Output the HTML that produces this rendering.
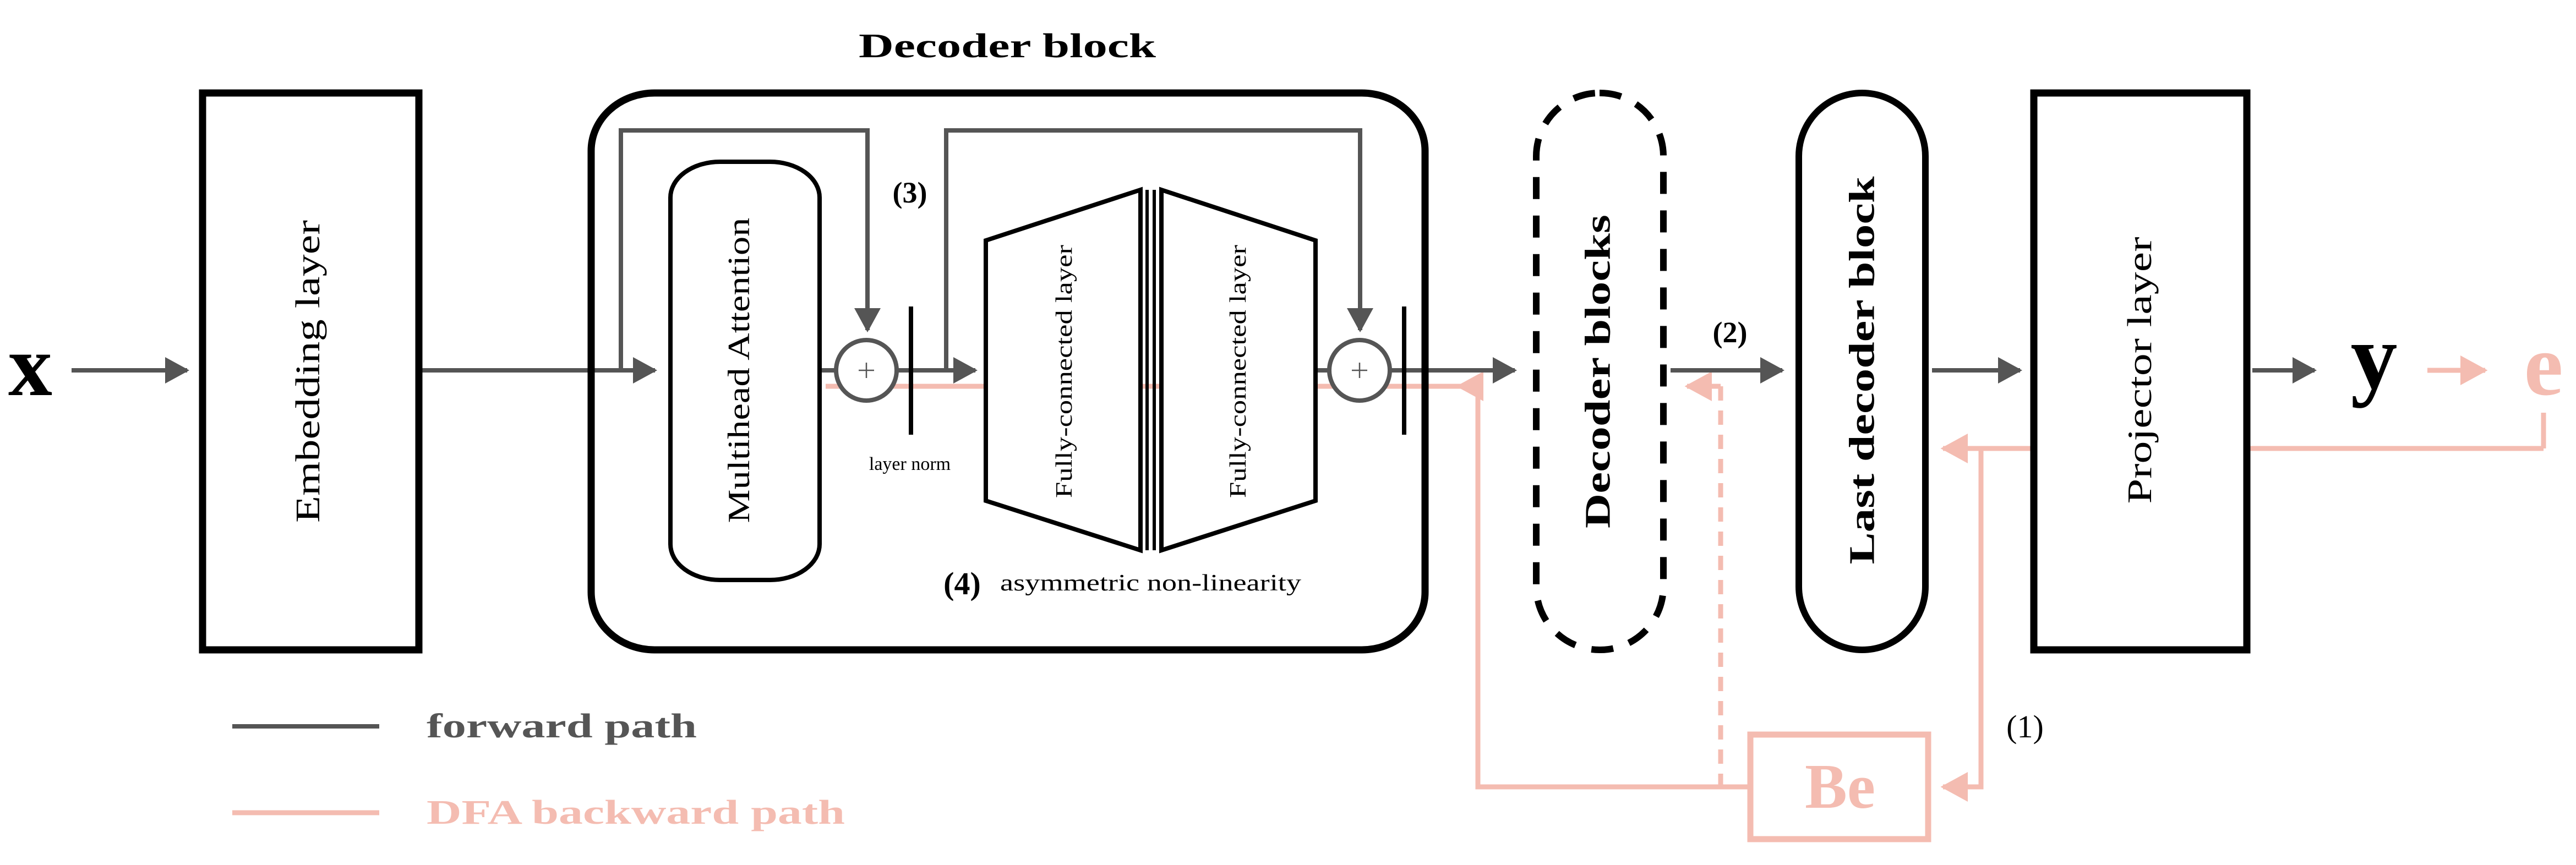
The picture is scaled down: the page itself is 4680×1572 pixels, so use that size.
<!DOCTYPE html>
<html><head><meta charset="utf-8"><style>html,body{margin:0;padding:0;background:#fff}svg{display:block}</style></head>
<body>
<svg width="4680" height="1572" viewBox="0 0 4680 1572" xmlns="http://www.w3.org/2000/svg" font-family="'Liberation Serif', serif">
<defs>
<marker id="ag" markerWidth="6" markerHeight="6" refX="5" refY="3" orient="auto" markerUnits="strokeWidth"><path d="M0,0 L5.5,3 L0,6 z" fill="#555"/></marker>
<marker id="ap" markerWidth="6" markerHeight="6" refX="5" refY="3" orient="auto" markerUnits="strokeWidth"><path d="M0,0 L5.5,3 L0,6 z" fill="#f4bcb1"/></marker>
</defs>
<g fill="none" stroke-linejoin="miter">
<g stroke="#f4bcb1" stroke-width="9">
<line x1="1500" y1="702" x2="2690" y2="702"/>
<line x1="2685" y1="702" x2="2650" y2="702" marker-end="url(#ap)"/>
<polyline points="2685,702 2685,1430 3175,1430"/>
<line x1="3126" y1="702" x2="3126" y2="1430" stroke-dasharray="26,18"/>
<line x1="3126" y1="702" x2="3065" y2="702" marker-end="url(#ap)"/>
<line x1="4621" y1="750" x2="4621" y2="815"/>
<line x1="4621" y1="815" x2="3530" y2="815" marker-end="url(#ap)"/>
<polyline points="3599,815 3599,1430 3530,1430" marker-end="url(#ap)"/>
<line x1="4410" y1="673" x2="4515" y2="673" marker-end="url(#ap)"/>
<rect x="3180" y="1335" width="323" height="190" stroke-width="11"/>
<line x1="422" y1="1477" x2="689" y2="1477"/>
</g>
<g stroke="#555" stroke-width="8">
<line x1="130" y1="673" x2="340" y2="673" marker-end="url(#ag)"/>
<line x1="767" y1="673" x2="1190" y2="673" marker-end="url(#ag)"/>
<polyline points="1128,673 1128,237 1576,237 1576,600" marker-end="url(#ag)"/>
<line x1="1493" y1="673" x2="1517" y2="673"/>
<line x1="1631" y1="673" x2="1772" y2="673" marker-end="url(#ag)"/>
<polyline points="1719,673 1719,237 2471,237 2471,600" marker-end="url(#ag)"/>
<line x1="2390" y1="673" x2="2413" y2="673"/>
<line x1="2527" y1="673" x2="2752" y2="673" marker-end="url(#ag)"/>
<line x1="3035" y1="673" x2="3238" y2="673" marker-end="url(#ag)"/>
<line x1="3510" y1="673" x2="3670" y2="673" marker-end="url(#ag)"/>
<line x1="4092" y1="673" x2="4205" y2="673" marker-end="url(#ag)"/>
<line x1="422" y1="1320" x2="689" y2="1320"/>
<circle cx="1574" cy="673" r="55" fill="#fff"/>
<circle cx="2470" cy="673" r="55" fill="#fff"/>
</g>
<g stroke="#555" stroke-width="2.5">
<line x1="1560" y1="673" x2="1588" y2="673"/><line x1="1574" y1="659" x2="1574" y2="687"/>
<line x1="2456" y1="673" x2="2484" y2="673"/><line x1="2470" y1="659" x2="2470" y2="687"/>
</g>
<g stroke="#000">
<rect x="368" y="169" width="393" height="1012" stroke-width="13" fill="#fff"/>
<rect x="1074" y="169" width="1515" height="1012" rx="115" ry="105" stroke-width="13"/>
<rect x="1218" y="294" width="271" height="760" rx="90" ry="65" stroke-width="8" fill="#fff"/>
<line x1="1655" y1="557" x2="1655" y2="790" stroke-width="8"/>
<line x1="2551" y1="557" x2="2551" y2="790" stroke-width="8"/>
<polygon points="1791,437 2072,345 2072,1000 1791,910" stroke-width="8" fill="#fff"/>
<polygon points="2110,345 2390,437 2390,910 2110,1000" stroke-width="8" fill="#fff"/>
<line x1="2084" y1="345" x2="2084" y2="1000" stroke-width="6"/>
<line x1="2097" y1="345" x2="2097" y2="1000" stroke-width="6"/>
<rect x="2791" y="169" width="231" height="1012" rx="115" ry="115" stroke-width="12" stroke-dasharray="40,30" fill="#fff"/>
<rect x="3268" y="169" width="230" height="1012" rx="115" ry="115" stroke-width="12" fill="#fff"/>
<rect x="3695" y="169" width="387" height="1012" stroke-width="13" fill="#fff"/>
</g>
</g>
<g fill="#000">
<text x="55" y="718" font-size="160" font-weight="bold" text-anchor="middle">x</text>
<text x="1830" y="104" font-size="62" font-weight="bold" text-anchor="middle" textLength="540" lengthAdjust="spacingAndGlyphs">Decoder block</text>
<text transform="translate(560,675) rotate(-90)" font-size="62" text-anchor="middle" dominant-baseline="central" textLength="550" lengthAdjust="spacingAndGlyphs">Embedding layer</text>
<text transform="translate(1343,673) rotate(-90)" font-size="56" text-anchor="middle" dominant-baseline="central" textLength="555" lengthAdjust="spacingAndGlyphs">Multihead Attention</text>
<text x="1653" y="368" font-size="54" font-weight="bold" text-anchor="middle">(3)</text>
<text x="1653" y="854" font-size="34" text-anchor="middle">layer norm</text>
<text transform="translate(1934,675) rotate(-90)" font-size="42" text-anchor="middle" dominant-baseline="central" textLength="460" lengthAdjust="spacingAndGlyphs">Fully-connected layer</text>
<text transform="translate(2250,675) rotate(-90)" font-size="42" text-anchor="middle" dominant-baseline="central" textLength="460" lengthAdjust="spacingAndGlyphs">Fully-connected layer</text>
<text x="1748" y="1080" font-size="58" font-weight="bold" text-anchor="middle">(4)</text>
<text x="1817" y="1073" font-size="42" textLength="547" lengthAdjust="spacingAndGlyphs">asymmetric non-linearity</text>
<text transform="translate(2903,675) rotate(-90)" font-size="66" font-weight="bold" text-anchor="middle" dominant-baseline="central" textLength="570" lengthAdjust="spacingAndGlyphs">Decoder blocks</text>
<text x="3143" y="622" font-size="54" font-weight="bold" text-anchor="middle">(2)</text>
<text transform="translate(3383,673) rotate(-90)" font-size="66" font-weight="bold" text-anchor="middle" dominant-baseline="central" textLength="705" lengthAdjust="spacingAndGlyphs">Last decoder block</text>
<text transform="translate(3888,673) rotate(-90)" font-size="62" text-anchor="middle" dominant-baseline="central" textLength="485" lengthAdjust="spacingAndGlyphs">Projector layer</text>
<text x="4313" y="705" font-size="170" font-weight="bold" text-anchor="middle">y</text>
<text x="3679" y="1340" font-size="58" text-anchor="middle">(1)</text>
</g>
<text x="4621" y="717" font-size="160" font-weight="bold" fill="#f4bcb1" text-anchor="middle">e</text>
<text x="3343" y="1468" font-size="115" font-weight="bold" fill="#f4bcb1" text-anchor="middle">Be</text>
<text x="775" y="1340" font-size="62" font-weight="bold" fill="#555" textLength="491" lengthAdjust="spacingAndGlyphs">forward path</text>
<text x="775" y="1497" font-size="62" font-weight="bold" fill="#f4bcb1" textLength="760" lengthAdjust="spacingAndGlyphs">DFA backward path</text>
</svg>
</body></html>
